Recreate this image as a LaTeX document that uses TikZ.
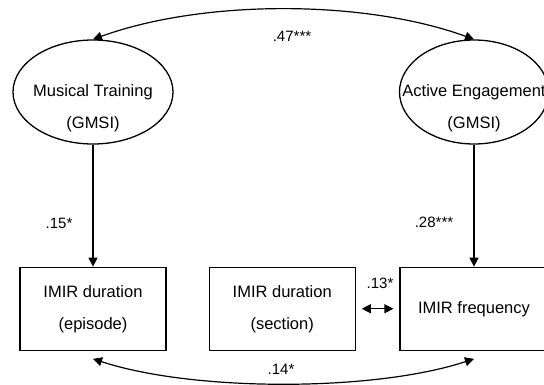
\documentclass[tikz,border=0pt]{standalone}
\usepackage{fontspec}
\setmainfont{Liberation Sans}
\usetikzlibrary{positioning, arrows.meta, shapes.geometric}
\newcommand{\figfont}{\fontsize{16.5}{32}\selectfont}
\newcommand{\coeffont}{\fontsize{15}{18}\selectfont}
\tikzset{
    latent/.style={ellipse, draw, line width=1.3pt, minimum height=104pt, inner sep=0pt},
    observed/.style={rectangle, draw, line width=1.2pt, minimum width=146pt, minimum height=83pt, align=center, font=\figfont},
    inlbl/.style={align=center, font=\figfont, yshift=-16.5pt},
    coef/.style={font=\coeffont},
    regpath/.style={line width=1.2pt, -{Triangle[length=9pt, width=9pt]}},
    covpath/.style={line width=1.2pt, {Triangle[length=9pt, width=9pt]}-{Triangle[length=9pt, width=9pt]}},
}
\begin{document}
\begin{tikzpicture}[x=1pt, y=1pt]
    \tikzset{node distance=122pt}
    \useasboundingbox (0,0) rectangle (544,384);

    % latent factors
    \node[latent, minimum width=160pt, label={[inlbl]center:{Musical Training\\(GMSI)}}] (mt) at (93,292) {};
    \node[latent, minimum width=149pt, label={[inlbl]center:{Active Engagement\\(GMSI)}}] (ae) at (474,292) {};

    % observed measures
    \node[observed, below=of mt] (epi) {IMIR duration\\(episode)};
    \node[observed, right=42pt of epi] (sec) {IMIR duration\\(section)};
    \node[observed, minimum width=148pt, below=of ae] (freq) {IMIR frequency};

    \draw[regpath] (mt) -- (epi);
    \draw[regpath] (ae) -- (freq);
    \draw[covpath, shorten <=6pt, shorten >=6pt] (sec) -- (freq);
    \draw[covpath] (mt.north) .. controls +(110,40) and +(-110,40) .. (ae.north);
    \draw[covpath] ([yshift=-8pt]epi.south) .. controls +(100,-33) and +(-100,-33) .. ([yshift=-8pt]freq.south);

    \node[coef] (c47) at (292,348) {.47***};
    \node[coef] (c15) at (59,161) {.15*};
    \node[coef] (c28) at (434,162) {.28***};
    \node[coef] (c13) at (380,101) {.13*};
    \node[coef] (c14) at (281,15) {.14*};
\end{tikzpicture}
\end{document}
